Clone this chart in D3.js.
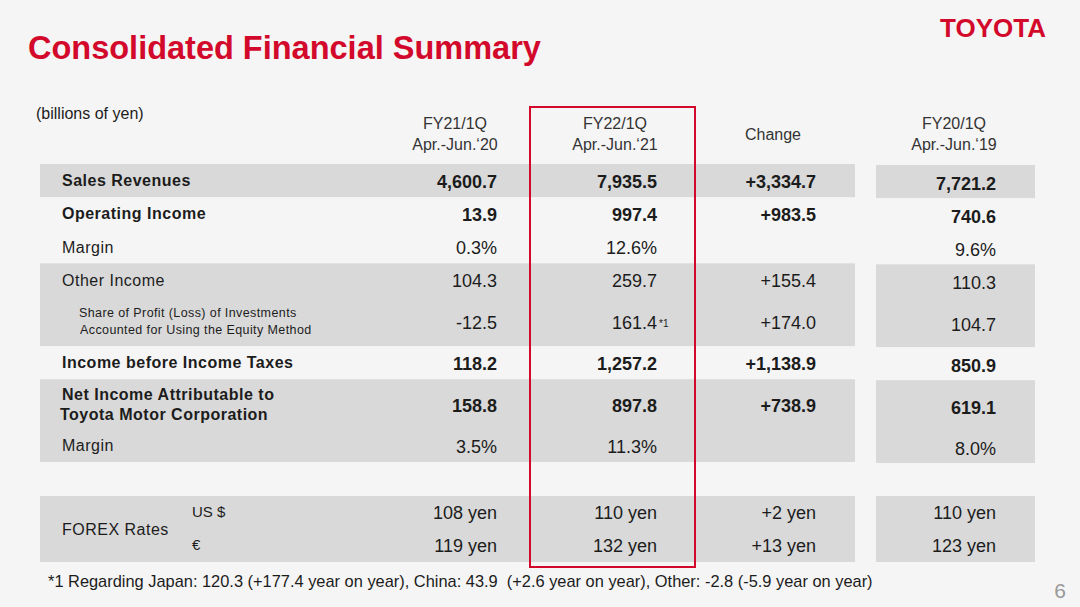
<!DOCTYPE html>
<html>
<head>
<meta charset="utf-8">
<script src="https://cdn.jsdelivr.net/npm/d3@7"></script>
<style>
  body { margin: 0; background: #f5f5f5; }
  svg { display: block; font-family: "Liberation Sans", Arial, sans-serif; }
</style>
</head>
<body>
<script>
// Data
var columns = ["FY21/1Q", "FY22/1Q", "Change", "FY20/1Q"];
var periods = ["Apr.-Jun.\u201820", "Apr.-Jun.\u201821", "", "Apr.-Jun.\u201819"];

var rowLabels = [
  ["Sales Revenues"],
  ["Operating Income"],
  ["Margin"],
  ["Other Income"],
  ["Share of Profit (Loss) of Investments", "Accounted for Using the Equity Method"],
  ["Income before Income Taxes"],
  ["Net Income Attributable to", "Toyota Motor Corporation"],
  ["Margin"]
];
var fy21 = ["4,600.7", "13.9", "0.3%", "104.3", "-12.5", "118.2", "158.8", "3.5%"];
var fy22 = ["7,935.5", "997.4", "12.6%", "259.7", "161.4", "1,257.2", "897.8", "11.3%"];
var change = ["+3,334.7", "+983.5", "", "+155.4", "+174.0", "+1,138.9", "+738.9", ""];
var fy20 = ["7,721.2", "740.6", "9.6%", "110.3", "104.7", "850.9", "619.1", "8.0%"];

var forexCurrencies = ["US $", "\u20ac"];
var forexFy21 = ["108 yen", "119 yen"];
var forexFy22 = ["110 yen", "132 yen"];
var forexChange = ["+2 yen", "+13 yen"];
var forexFy20 = ["110 yen", "123 yen"];

var footnote = "*1 Regarding Japan: 120.3 (+177.4 year on year), China: 43.9  (+2.6 year on year), Other: -2.8 (-5.9 year on year)";

// Layout
var svgWidth = 1080, svgHeight = 607;
var red = "#d3092c";
var gray = "#d9d9d9";
var ink = "#1c1c1c";

// row heights in units (two-line rows are taller)
var rowUnits = [1, 1, 1, 1, 1.5, 1, 1.5, 1];
var boldRows = [0, 1, 5, 6];
var bandGroups = [[0, 0], [3, 4], [6, 7]];

var rowStart = [];
var acc = 0;
rowUnits.forEach(function(u) { rowStart.push(acc); acc += u; });

var y = d3.scaleLinear().domain([0, acc]).range([164, 462]);
// right edge of each value column
var colRight = d3.scaleOrdinal().domain(columns).range([497, 657, 816, 996]);
var colShift = d3.scaleOrdinal().domain(columns).range([0, 0, 0, 2]);

var svg = d3.select("body").append("svg")
  .attr("width", svgWidth)
  .attr("height", svgHeight);

svg.append("rect").attr("width", svgWidth).attr("height", svgHeight).attr("fill", "#f5f5f5");

// Title and logo
svg.append("text")
  .attr("x", 28).attr("y", 59)
  .attr("fill", red).attr("font-size", 32.5).attr("font-weight", "bold")
  .text("Consolidated Financial Summary");

svg.append("text")
  .attr("x", 1046).attr("y", 37)
  .attr("text-anchor", "end")
  .attr("fill", red).attr("font-size", 26).attr("font-weight", "bold")
  .text("TOYOTA");

svg.append("text")
  .attr("x", 36).attr("y", 119)
  .attr("fill", ink).attr("font-size", 16)
  .text("(billions of yen)");

// Shaded bands
bandGroups.forEach(function(g) {
  var y0 = y(rowStart[g[0]]);
  var y1 = y(rowStart[g[1]] + rowUnits[g[1]]);
  svg.append("rect").attr("x", 40).attr("y", y0).attr("width", 815).attr("height", y1 - y0).attr("fill", gray);
  svg.append("rect").attr("x", 876).attr("y", y0 + 1).attr("width", 159).attr("height", y1 - y0).attr("fill", gray);
});

// FOREX band
svg.append("rect").attr("x", 40).attr("y", 496).attr("width", 815).attr("height", 66).attr("fill", gray);
svg.append("rect").attr("x", 876).attr("y", 496).attr("width", 159).attr("height", 66).attr("fill", gray);

// Column headers
columns.forEach(function(c, i) {
  var cx = colRight(c) - 42;
  var h = svg.append("text")
    .attr("text-anchor", "middle")
    .attr("fill", "#333").attr("font-size", 16);
  if (periods[i]) {
    h.append("tspan").attr("x", cx).attr("y", 129).text(c);
    h.append("tspan").attr("x", cx).attr("y", 150).text(periods[i]);
  } else {
    h.attr("x", cx - 1).attr("y", 140).text(c);
  }
});

// Row labels
rowLabels.forEach(function(lines, i) {
  var mid = y(rowStart[i] + rowUnits[i] / 2);
  var bold = boldRows.indexOf(i) >= 0;
  var small = lines.length > 1 && !bold;
  var t = svg.append("text")
    .attr("fill", ink)
    .attr("font-size", small ? 12.5 : 16)
    .attr("font-weight", bold ? "bold" : "normal")
    .attr("letter-spacing", small ? 0.4 : 0.5);
  lines.forEach(function(line, k) {
    var off = lines.length > 1 ? (k === 0 ? -1 : 1) * (small ? 8.5 : 10) : 0;
    t.append("tspan")
      .attr("x", small ? 79 + k * 1 : 62 - k * 2)
      .attr("y", mid + off)
      .attr("dy", "0.36em")
      .text(line);
  });
});

// Values
var valueCols = [fy21, fy22, change, fy20];
valueCols.forEach(function(vals, ci) {
  var c = columns[ci];
  svg.append("g").selectAll("text")
    .data(vals)
    .enter()
    .append("text")
    .attr("x", colRight(c))
    .attr("y", function(d, i) { return y(rowStart[i] + rowUnits[i] / 2) + 1 + colShift(c); })
    .attr("dy", "0.36em")
    .attr("text-anchor", "end")
    .attr("fill", ink)
    .attr("font-size", 18)
    .attr("font-weight", function(d, i) { return boldRows.indexOf(i) >= 0 ? "bold" : "normal"; })
    .text(function(d) { return d; });
});

// footnote marker next to the equity method value
svg.append("text")
  .attr("x", colRight("FY22/1Q") + 2)
  .attr("y", y(rowStart[4] + rowUnits[4] / 2) + 1)
  .attr("dy", "0.5em")
  .attr("fill", ink).attr("font-size", 10)
  .text("*1");

// FOREX rows
var forexY = d3.scalePoint().domain(forexCurrencies).range([513, 546]);
svg.append("text")
  .attr("x", 62).attr("y", 529).attr("dy", "0.36em")
  .attr("fill", ink).attr("font-size", 16).attr("letter-spacing", 0.5)
  .text("FOREX Rates");

svg.append("g").selectAll("text")
  .data(forexCurrencies)
  .enter()
  .append("text")
  .attr("x", 192)
  .attr("y", function(d) { return forexY(d) - 1; })
  .attr("dy", "0.36em")
  .attr("fill", ink).attr("font-size", 15)
  .text(function(d) { return d; });

[forexFy21, forexFy22, forexChange, forexFy20].forEach(function(vals, ci) {
  var c = columns[ci];
  svg.append("g").selectAll("text")
    .data(vals)
    .enter()
    .append("text")
    .attr("x", colRight(c))
    .attr("y", function(d, i) { return forexY(forexCurrencies[i]); })
    .attr("dy", "0.36em")
    .attr("text-anchor", "end")
    .attr("fill", ink).attr("font-size", 18)
    .text(function(d) { return d; });
});

// Highlight box round the current quarter
svg.append("rect")
  .attr("x", 530).attr("y", 107)
  .attr("width", 165).attr("height", 460)
  .attr("fill", "none")
  .attr("stroke", red).attr("stroke-width", 2);

// Footnote and page number
svg.append("text")
  .attr("x", 48).attr("y", 581).attr("dy", "0.36em")
  .attr("fill", ink).attr("font-size", 16.4)
  .style("white-space", "pre")
  .text(footnote);

svg.append("text")
  .attr("x", 1066).attr("y", 598)
  .attr("text-anchor", "end")
  .attr("fill", "#999").attr("font-size", 21)
  .text("6");
</script>
</body>
</html>
